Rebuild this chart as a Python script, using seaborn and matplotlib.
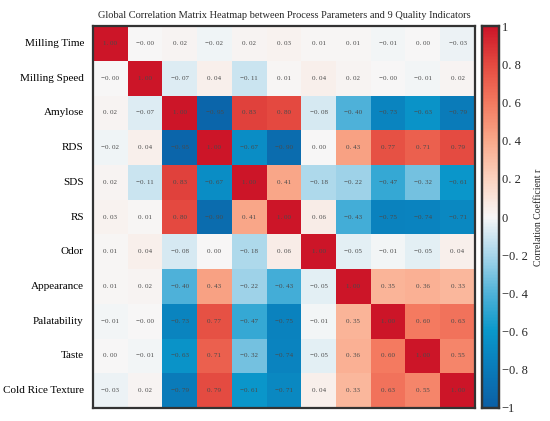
import numpy as np
import pandas as pd
import matplotlib
matplotlib.use("Agg")
import matplotlib.pyplot as plt
import seaborn as sns
from matplotlib.colors import LinearSegmentedColormap

labels = ["Milling Time", "Milling Speed", "Amylose", "RDS", "SDS", "RS",
          "Odor", "Appearance", "Palatability", "Taste", "Cold Rice Texture"]

r_milling_time = [1.00, -0.00, 0.02, -0.02, 0.02, 0.03, 0.01, 0.01, -0.01, 0.00, -0.03]
r_milling_speed = [-0.00, 1.00, -0.07, 0.04, -0.11, 0.01, 0.04, 0.02, -0.00, -0.01, 0.02]
r_amylose = [0.02, -0.07, 1.00, -0.95, 0.83, 0.80, -0.08, -0.40, -0.73, -0.63, -0.79]
r_rds = [-0.02, 0.04, -0.95, 1.00, -0.67, -0.90, 0.00, 0.43, 0.77, 0.71, 0.79]
r_sds = [0.02, -0.11, 0.83, -0.67, 1.00, 0.41, -0.18, -0.22, -0.47, -0.32, -0.61]
r_rs = [0.03, 0.01, 0.80, -0.90, 0.41, 1.00, 0.06, -0.43, -0.75, -0.74, -0.71]
r_odor = [0.01, 0.04, -0.08, 0.00, -0.18, 0.06, 1.00, -0.05, -0.01, -0.05, 0.04]
r_appearance = [0.01, 0.02, -0.40, 0.43, -0.22, -0.43, -0.05, 1.00, 0.35, 0.36, 0.33]
r_palatability = [-0.01, -0.00, -0.73, 0.77, -0.47, -0.75, -0.01, 0.35, 1.00, 0.60, 0.63]
r_taste = [0.00, -0.01, -0.63, 0.71, -0.32, -0.74, -0.05, 0.36, 0.60, 1.00, 0.55]
r_cold_rice = [-0.03, 0.02, -0.79, 0.79, -0.61, -0.71, 0.04, 0.33, 0.63, 0.55, 1.00]

cbar_ticks = [-1, -0.8, -0.6, -0.4, -0.2, 0, 0.2, 0.4, 0.6, 0.8, 1]
cbar_ticklabels = ["\u22121", "\u22120. 8", "\u22120. 6", "\u22120. 4", "\u22120. 2", "0",
                   "0. 2", "0. 4", "0. 6", "0. 8", "1"]

df = pd.DataFrame([r_milling_time, r_milling_speed, r_amylose, r_rds, r_sds, r_rs,
                   r_odor, r_appearance, r_palatability, r_taste, r_cold_rice],
                  index=labels, columns=labels)

annot = df.map(lambda v: f"{v:.2f}".replace(".", ". ").replace("-", "\u2212"))

cmap = LinearSegmentedColormap.from_list("custom", [
    (0.0, "#0b5fa5"), (0.12, "#0a80bd"), (0.2, "#0a98cb"), (0.3, "#4fb2d9"),
    (0.4, "#a8d6ea"), (0.5, "#f7f7f7"), (0.6, "#fcd3c0"), (0.7, "#f9a98a"),
    (0.8, "#f47a60"), (0.9, "#e44a40"), (1.0, "#cc1528")])

sns.set_style("white")
plt.rcParams['font.family'] = ['Liberation Serif', 'DejaVu Serif']
plt.rcParams['axes.unicode_minus'] = True

fig = plt.figure(figsize=(5.5, 4.21), dpi=100)
ax = fig.add_axes([0.169, 0.031, 0.6945, 0.907])
cax = fig.add_axes([0.876, 0.031, 0.031, 0.907])

sns.heatmap(df, ax=ax, cbar_ax=cax, cmap=cmap, vmin=-1, vmax=1,
            annot=annot, fmt="", annot_kws={"fontsize": 5, "color": "#4a4a4a"},
            xticklabels=False, yticklabels=labels, square=False)

for s in ax.spines.values():
    s.set_visible(True)
    s.set_linewidth(1.6)
    s.set_color("#333333")
ax.tick_params(axis="both", direction="in", length=3, width=1.2, color="#333333",
               left=True, right=True, top=True, bottom=True,
               labelleft=True, labelright=False, labeltop=False, labelbottom=False)
ax.tick_params(axis="y", pad=6.5)
ax.set_xticks(np.arange(len(labels)) + 0.5)
ax.set_yticks(np.arange(len(labels)) + 0.5)
ax.set_yticklabels(labels, fontsize=8, rotation=0, color="black")
ax.set_xlabel("")
ax.set_ylabel("")
ax.set_title("Global Correlation Matrix Heatmap between Process Parameters and 9 Quality Indicators",
             fontsize=7.5, pad=6)

cax.set_yticks(cbar_ticks)
cax.set_yticklabels(cbar_ticklabels, fontsize=9)
cax.tick_params(direction="in", length=3, width=1.2, color="#333333", right=True, pad=2)
for s in cax.spines.values():
    s.set_visible(True)
    s.set_linewidth(1.6)
    s.set_color("#333333")
cax.set_ylabel("Correlation Coefficient r", fontsize=7, labelpad=5)

fig.savefig("out.png", dpi=100)
